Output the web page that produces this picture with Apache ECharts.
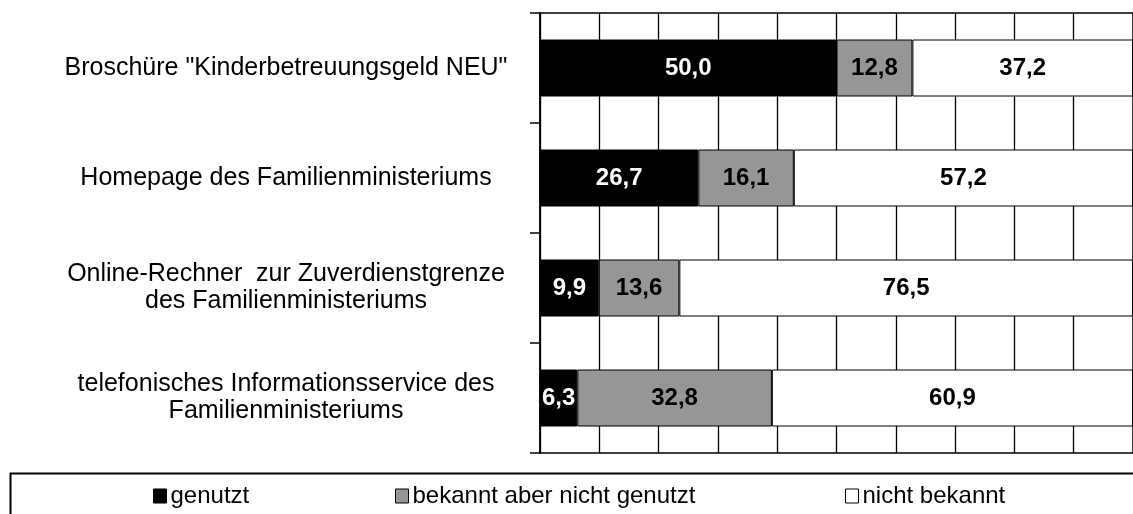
<!DOCTYPE html>
<html>

<head>
    <meta charset="utf-8">
    <title>Kinderbetreuungsgeld - Informationsangebote</title>
    <style>
        html, body {
            margin: 0;
            padding: 0;
            background: #fff;
        }
        #chartBox {
            width: 1133px;
            height: 514px;
        }
    </style>
</head>

<body>
    <div id="chartBox"></div>

    <script src="https://cdn.jsdelivr.net/npm/echarts@6/dist/echarts.min.js"></script>

    <script>
        // Kategorien (von oben nach unten)
        var categories = [
            'Broschüre "Kinderbetreuungsgeld NEU"',
            'Homepage des Familienministeriums',
            'Online-Rechner  zur Zuverdienstgrenze\ndes Familienministeriums',
            'telefonisches Informationsservice des\nFamilienministeriums'
        ];
        var seriesNames = ['genutzt', 'bekannt aber nicht genutzt', 'nicht bekannt'];
        var genutzt = [50.0, 26.7, 9.9, 6.3];
        var bekanntNichtGenutzt = [12.8, 16.1, 13.6, 32.8];
        var nichtBekannt = [37.2, 57.2, 76.5, 60.9];

        var fillColors = ['#000000', '#969696', '#ffffff'];
        var labelColors = ['#ffffff', '#000000', '#000000'];
        var legendLeft = [153, 395, 845];

        var chart = echarts.init(document.getElementById('chartBox'));

        // Zahlen mit Komma
        var fmt = function (p) {
            return p.value.toFixed(1).replace('.', ',');
        };

        var values = [genutzt, bekanntNichtGenutzt, nichtBekannt];
        var series = values.map(function (arr, i) {
            return {
                name: seriesNames[i],
                type: 'bar',
                stack: 'total',
                barWidth: 57,
                data: arr,
                itemStyle: {
                    color: fillColors[i],
                    borderColor: '#000',
                    borderWidth: 1
                },
                label: {
                    show: true,
                    position: 'inside',
                    formatter: fmt,
                    color: labelColors[i],
                    fontFamily: '"Liberation Sans", Arial, sans-serif',
                    fontWeight: 'bold',
                    fontSize: 24
                },
                emphasis: { disabled: true }
            };
        });

        // je ein Legendeneintrag an fester Stelle
        var legends = seriesNames.map(function (name, i) {
            return {
                data: [name],
                left: legendLeft[i],
                top: 484,
                padding: 0,
                itemWidth: 13,
                itemHeight: 14,
                itemGap: 0,
                icon: 'rect',
                selectedMode: false,
                itemStyle: {
                    borderColor: '#000',
                    borderWidth: 1
                },
                textStyle: {
                    color: '#000',
                    fontFamily: '"Liberation Sans", Arial, sans-serif',
                    fontSize: 24,
                    padding: [0, 0, 0, -1]
                }
            };
        });

        var option = {
            animation: false,
            backgroundColor: '#fff',
            grid: {
                left: 540,
                right: -7,
                top: 13,
                bottom: 61,
                show: true,
                borderColor: '#000',
                borderWidth: 1.5,
                backgroundColor: 'transparent'
            },
            legend: legends,
            xAxis: {
                type: 'value',
                min: 0,
                max: 100,
                interval: 10,
                axisLine: { show: false },
                axisTick: { show: false },
                axisLabel: { show: false },
                splitLine: {
                    show: true,
                    lineStyle: { color: '#000', width: 1.3 }
                }
            },
            yAxis: {
                type: 'category',
                inverse: true,
                data: categories,
                axisLine: {
                    show: true,
                    lineStyle: { color: '#000', width: 1.5 }
                },
                axisTick: {
                    show: true,
                    length: 10,
                    lineStyle: { color: '#000', width: 1.5 }
                },
                axisLabel: {
                    margin: 254,
                    align: 'center',
                    color: '#000',
                    fontFamily: '"Liberation Sans", Arial, sans-serif',
                    fontSize: 25,
                    lineHeight: 27
                }
            },
            graphic: [{
                // Rahmen um die Legende
                type: 'rect',
                left: 8,
                top: 471,
                shape: { width: 1140, height: 60 },
                style: { fill: 'none', stroke: '#000', lineWidth: 2 },
                silent: true
            }],
            series: series
        };

        chart.setOption(option);
        window.addEventListener('resize', function () {
            chart.resize();
        });
    </script>

</body>

</html>
